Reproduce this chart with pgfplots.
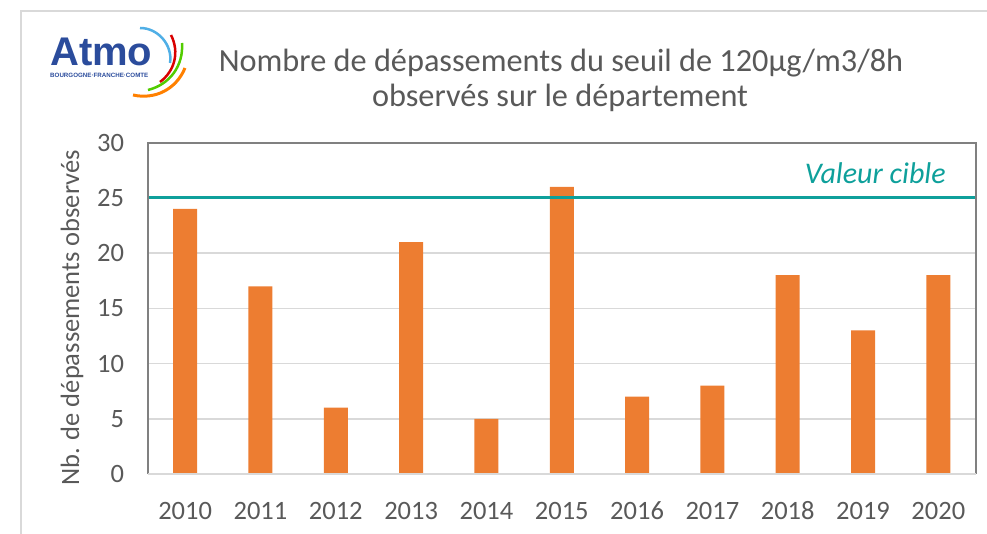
\documentclass[border=0pt]{standalone}
\usepackage{pgfplots}
\pgfplotsset{compat=1.18}
\usepackage{fontspec}
\setmainfont{Carlito}
\newfontfamily\logofont{Liberation Sans}
\definecolor{barorange}{HTML}{ED7D31}
\definecolor{cible}{HTML}{0EA09B}
\definecolor{txtgrey}{HTML}{595959}
\definecolor{gridgrey}{HTML}{D9D9D9}
\definecolor{framegrey}{HTML}{808080}
\definecolor{atmoblue}{HTML}{2B4C9C}

\begin{document}
\begin{tikzpicture}[x=1pt,y=1pt]
\useasboundingbox (0,0) rectangle (987,-534);
% cadre exterieur
\draw[gridgrey, line width=2pt] (21,-534) -- (21,-11) -- (987,-11);

% logo
\node[anchor=base west, inner sep=0, text=atmoblue, font=\logofont\bfseries\fontsize{40}{40}\selectfont] at (50,-66) {Atmo};
\node[anchor=base west, inner sep=0, text=atmoblue, font=\logofont\bfseries\fontsize{6.2}{7}\selectfont] at (50,-77.5) {BOURGOGNE·FRANCHE·COMTE};
\draw[cyan!80!blue!70, line width=2.5pt] (140,-28) to[bend left=50] (170,-63);
\draw[red!85!black, line width=2.5pt] (171,-35) to[bend left=40] (160,-82);
\draw[green!60!yellow!80!black, line width=2.5pt] (182,-43) to[bend left=40] (148,-90);
\draw[orange, line width=3pt] (185,-68) to[bend left=40] (133,-95);

% titre
\node[anchor=base, inner sep=0, text=txtgrey, font=\fontsize{32.3}{36}\selectfont] at (561,-72) {Nombre de dépassements du seuil de 120µg/m3/8h};
\node[anchor=base, inner sep=0, text=txtgrey, font=\fontsize{32.3}{36}\selectfont] at (560,-107) {observés sur le département};

\begin{axis}[
    at={(147.5pt,-474pt)},
    anchor=south west,
    scale only axis,
    width=828.5pt,
    height=331.3pt,
    xmin=-0.5, xmax=10.5,
    ymin=0, ymax=30,
    xtick={0,1,2,3,4,5,6,7,8,9,10},
    xticklabels={2010,2011,2012,2013,2014,2015,2016,2017,2018,2019,2020},
    ytick={0,5,10,15,20,25,30},
    major tick length=0pt,
    axis line style={draw=none},
    ymajorgrids,
    grid style={gridgrey, line width=1.5pt},
    tick label style={text=txtgrey, font=\fontsize{26.5}{30}\selectfont},
    /pgf/number format/assume math mode=true,
    xticklabel style={anchor=base, yshift=-45pt},
    yticklabel style={xshift=-20pt},
    ylabel={Nb. de dépassements observés},
    ylabel style={at={(axis description cs:-0.0911,0.471)}, anchor=center, text=txtgrey, font=\fontsize{26.5}{30}\selectfont},
    clip=false,
]
\addplot[ybar, bar width=24pt, fill=barorange, draw=none, bar shift=0pt] coordinates {
    (0,24) (1,17) (2,6) (3,21) (4,5) (5,26) (6,7) (7,8) (8,18) (9,13) (10,18)
};
% valeur cible
\addplot[cible, line width=3pt] coordinates {(-0.5,25) (10.5,25)};
\node[anchor=base east, inner sep=0, text=cible, font=\itshape\fontsize{30}{34}\selectfont] at (axis cs:10.1,26.35) {Valeur cible};
% cadre du graphique
\draw[framegrey, line width=2pt] (rel axis cs:0,0) -- (rel axis cs:0,1) -- (rel axis cs:1,1) -- (rel axis cs:1,0);
\draw[gridgrey, line width=2pt] (rel axis cs:0,0) -- (rel axis cs:1,0);
\end{axis}
\end{tikzpicture}
\end{document}
